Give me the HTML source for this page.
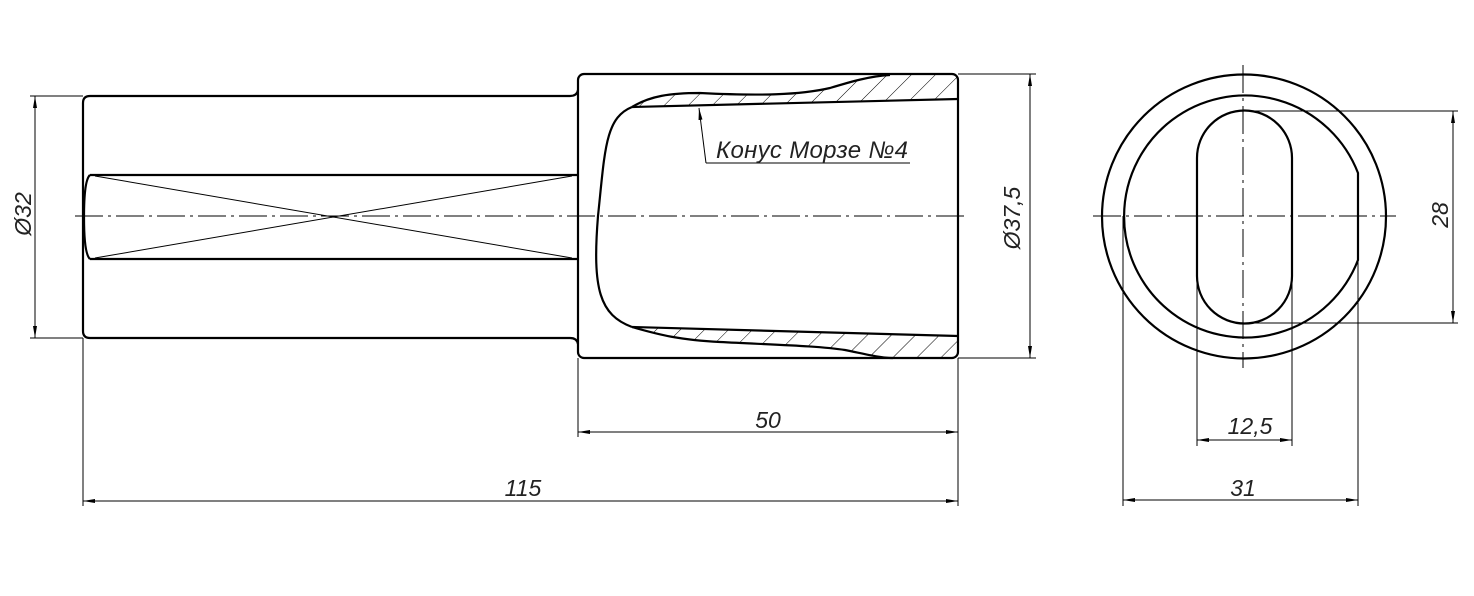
<!DOCTYPE html>
<html><head><meta charset="utf-8"><style>
html,body{margin:0;padding:0;background:#fff;}
svg{display:block;}
text{font-family:"Liberation Sans",sans-serif;font-style:italic;fill:#222;}
</style></head><body>
<svg width="1474" height="596" viewBox="0 0 1474 596" xmlns="http://www.w3.org/2000/svg">
<defs>
<pattern id="h" patternUnits="userSpaceOnUse" width="17" height="17" patternTransform="rotate(45)">
<line x1="0" y1="0" x2="0" y2="17" stroke="#000" stroke-width="1"/>
</pattern>
<marker id="a" viewBox="0 0 12 6" refX="12" refY="3" markerWidth="12" markerHeight="6" orient="auto-start-reverse" markerUnits="userSpaceOnUse">
<path d="M0,1 L12,3 L0,5 z" fill="#000"/>
</marker>
</defs>
<g fill="none" stroke="#000">
<path d="M632,107 C650,96 670,93 700,93 C760,96 800,95 830,88 C850,82 870,76 890,75 L958,75 L958,99 Z" fill="url(#h)" stroke="none"/>
<path d="M632,327 C660,335 680,340 720,342 C780,345 820,346 845,350 C865,354 880,358 893,358 L958,358 L958,336 Z" fill="url(#h)" stroke="none"/>
<g stroke-width="2.2">
<path d="M90,96 L570,96 Q577,96 578,90"/>
<path d="M90,338 L570,338 Q577,338 578,344"/>
<path d="M90,96 Q83,96 83,103 L83,331 Q83,338 90,338"/>
<path d="M90,175 L577,175 M90,259 L577,259"/>
<path d="M90,175 Q84,180 84,217 Q84,254 90,259"/>
<rect x="578" y="74" width="380" height="284" rx="6"/>
<path d="M632,107 C650,96 670,93 700,93 C760,96 800,95 830,88 C850,82 870,76 890,75"/>
<path d="M632,107 L958,99"/>
<path d="M632,107 C605,118 605,150 598,216 C592,290 600,315 632,327"/>
<path d="M632,327 L958,336"/>
<path d="M632,327 C660,335 680,340 720,342 C780,345 820,346 845,350 C865,354 880,358 893,358"/>
<circle cx="1244" cy="216.5" r="142"/>
<path d="M1358,173 A121,121 0 1 0 1358,260 Z"/>
<path d="M1197,158 A47.5,47.5 0 0 1 1292,158 L1292,276 A47.5,47.5 0 0 1 1197,276 Z"/>
</g>
<g stroke-width="1">
<path d="M95,176 L572,258 M95,258 L572,176"/>
<path d="M75,216 L965,216" stroke-dasharray="28,5,3,5"/>
<path d="M1093,216 L1396,216" stroke-dasharray="28,5,3,5"/>
<path d="M1243,65 L1243,368" stroke-dasharray="28,5,3,5"/>
<path d="M30,96 L83,96 M30,338 L83,338"/>
<path d="M35,96 L35,338" marker-start="url(#a)" marker-end="url(#a)"/>
<path d="M958,74 L1036,74 M958,358 L1036,358"/>
<path d="M1030,74 L1030,358" marker-start="url(#a)" marker-end="url(#a)"/>
<path d="M83,338 L83,506 M578,358 L578,437 M958,358 L958,506"/>
<path d="M578,432 L958,432" marker-start="url(#a)" marker-end="url(#a)"/>
<path d="M83,501 L958,501" marker-start="url(#a)" marker-end="url(#a)"/>
<path d="M706,163 L699,108" marker-end="url(#a)"/>
<path d="M706,163 L910,163"/>
<path d="M1243,111 L1458,111 M1243,323 L1458,323"/>
<path d="M1453,111 L1453,323" marker-start="url(#a)" marker-end="url(#a)"/>
<path d="M1123,216 L1123,506 M1358,260 L1358,506 M1197,276 L1197,446 M1292,276 L1292,446"/>
<path d="M1197,440 L1292,440" marker-start="url(#a)" marker-end="url(#a)"/>
<path d="M1123,500 L1358,500" marker-start="url(#a)" marker-end="url(#a)"/>
</g>
</g>
<text x="716" y="158" font-size="24" textLength="192">Конус Морзе №4</text>
<text x="768" y="428" font-size="23" text-anchor="middle">50</text>
<text x="523" y="496" font-size="23" text-anchor="middle">115</text>
<text x="1250" y="434" font-size="23" text-anchor="middle">12,5</text>
<text x="1243" y="496" font-size="23" text-anchor="middle">31</text>
<text transform="translate(31,214) rotate(-90)" font-size="23" text-anchor="middle">Ø32</text>
<text transform="translate(1020,218) rotate(-90)" font-size="23" text-anchor="middle">Ø37,5</text>
<text transform="translate(1448,215) rotate(-90)" font-size="23" text-anchor="middle">28</text>
</svg>
</body></html>
